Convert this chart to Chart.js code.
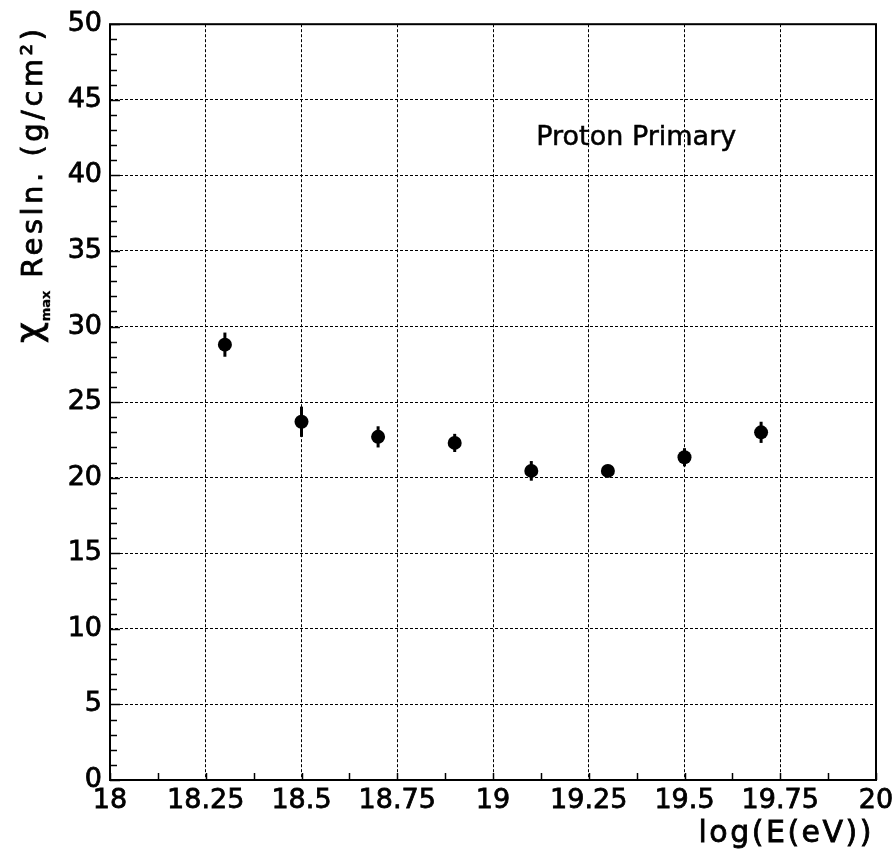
<!DOCTYPE html>
<html>
<head>
<meta charset="utf-8">
<script src="https://cdn.jsdelivr.net/npm/chart.js@4/dist/chart.umd.min.js"></script>
<style>
html,body{margin:0;padding:0;background:#fff;}
canvas{display:block;}
</style>
</head>
<body>
<canvas id="c" width="893" height="851"></canvas>
<script>
// ---- data ----
const logEnergy = [18.3, 18.5, 18.7, 18.9, 19.1, 19.3, 19.5, 19.7];
const xmaxResolution = [28.8, 23.7, 22.7, 22.3, 20.45, 20.45, 21.35, 23.0];
const xmaxError = [0.8, 1.0, 0.7, 0.6, 0.65, 0.4, 0.6, 0.7];
const xTickValues = [18, 18.25, 18.5, 18.75, 19, 19.25, 19.5, 19.75, 20];
const xTickLabels = ['18', '18.25', '18.5', '18.75', '19', '19.25', '19.5', '19.75', '20'];
const yTickValues = [0, 5, 10, 15, 20, 25, 30, 35, 40, 45, 50];
const yTickLabels = ['0', '5', '10', '15', '20', '25', '30', '35', '40', '45', '50'];
const annotationText = 'Proton Primary';
const xAxisTitle = 'log(E(eV))';
const yAxisTitleParts = ['\u03C7', 'max', ' Resln. (g/cm\u00B2)'];

const FONT = '"DejaVu Sans", sans-serif';

function heavyText(ctx, text, x, y, sw) {
  ctx.lineWidth = sw;
  ctx.strokeText(text, x, y);
  ctx.fillText(text, x, y);
}

const decor = {
  id: 'decor',
  afterDatasetsDraw(chart) {
    const ctx = chart.ctx;
    const xs = chart.scales.x, ys = chart.scales.y;
    ctx.save();
    ctx.strokeStyle = '#000';
    ctx.lineWidth = 3;
    logEnergy.forEach((x, i) => {
      const px = xs.getPixelForValue(x);
      const y1 = ys.getPixelForValue(xmaxResolution[i] - xmaxError[i]);
      const y2 = ys.getPixelForValue(xmaxResolution[i] + xmaxError[i]);
      ctx.beginPath(); ctx.moveTo(px, y1); ctx.lineTo(px, y2); ctx.stroke();
    });
    ctx.restore();
  },
  afterDraw(chart) {
    const ctx = chart.ctx;
    const xs = chart.scales.x, ys = chart.scales.y;
    const a = chart.chartArea;
    ctx.save();
    // frame
    ctx.strokeStyle = '#000';
    ctx.lineWidth = 2;
    ctx.strokeRect(a.left, a.top, a.right - a.left, a.bottom - a.top);
    // inward ticks on y
    ctx.lineWidth = 1.5;
    for (let v = 0; v <= 50; v += 1) {
      const py = Math.round(ys.getPixelForValue(v)) + 0.5;
      const len = (v % 5 === 0) ? 10 : 7;
      ctx.beginPath(); ctx.moveTo(a.left, py); ctx.lineTo(a.left + len, py); ctx.stroke();
    }
    // inward ticks on x
    for (let k = 0; k <= 16; k++) {
      const v = 18 + k * 0.125;
      const px = Math.round(xs.getPixelForValue(v)) + 0.5;
      ctx.beginPath(); ctx.moveTo(px, a.bottom); ctx.lineTo(px, a.bottom - 7); ctx.stroke();
    }
    ctx.fillStyle = '#000';
    ctx.strokeStyle = '#000';
    // annotation
    ctx.font = '27px ' + FONT;
    ctx.textAlign = 'center';
    ctx.textBaseline = 'middle';
    heavyText(ctx, annotationText, xs.getPixelForValue(19.374), ys.getPixelForValue(42.45), 0.5);
    // x title
    ctx.font = '30px ' + FONT;
    ctx.letterSpacing = '2.5px';
    ctx.textAlign = 'right';
    ctx.textBaseline = 'alphabetic';
    heavyText(ctx, xAxisTitle, a.right - 2, 842, 0.8);
    // y title
    ctx.translate(42, 343);
    ctx.rotate(-Math.PI / 2);
    ctx.textAlign = 'left';
    let x = 0;
    ctx.font = '36px ' + FONT;
    ctx.letterSpacing = '1px';
    heavyText(ctx, yAxisTitleParts[0], x, -1, 0.8);
    x += ctx.measureText(yAxisTitleParts[0]).width;
    ctx.font = 'bold 13px ' + FONT;
    ctx.letterSpacing = '0px';
    heavyText(ctx, yAxisTitleParts[1], x, 8, 0.3);
    x += ctx.measureText(yAxisTitleParts[1]).width;
    ctx.font = '29px ' + FONT;
    ctx.letterSpacing = '3.5px';
    heavyText(ctx, yAxisTitleParts[2], x, 0, 0.8);
    ctx.restore();
  }
};

new Chart(document.getElementById('c'), {
  type: 'scatter',
  data: {
    datasets: [{
      data: logEnergy.map((x, i) => ({ x: x, y: xmaxResolution[i] })),
      pointRadius: 7,
      pointHoverRadius: 7,
      pointBackgroundColor: '#000',
      pointBorderColor: '#000',
      pointBorderWidth: 0,
      showLine: false
    }]
  },
  options: {
    responsive: false,
    animation: false,
    devicePixelRatio: 1,
    layout: { padding: { top: 18, right: 17, left: 0, bottom: 0 } },
    plugins: { legend: { display: false }, tooltip: { enabled: false } },
    scales: {
      x: {
        type: 'linear',
        min: 18, max: 20,
        afterBuildTicks: s => { s.ticks = xTickValues.map(v => ({ value: v })); },
        afterFit: s => { s.height = 71; s.paddingLeft = 0; s.paddingRight = 0; },
        ticks: {
          autoSkip: false, maxRotation: 0, minRotation: 0,
          color: '#000', padding: 5,
          textStrokeColor: '#000', textStrokeWidth: 0.8,
          font: { family: FONT, size: 27 },
          callback: (v, i) => xTickLabels[i]
        },
        grid: { color: '#000', lineWidth: 1, drawTicks: false, tickLength: 0 },
        border: { display: false, dash: [3, 2] }
      },
      y: {
        type: 'linear',
        min: 0, max: 50,
        afterBuildTicks: s => { s.ticks = yTickValues.map(v => ({ value: v })); },
        afterFit: s => { s.width = 110; },
        ticks: {
          color: '#000', padding: 8,
          textStrokeColor: '#000', textStrokeWidth: 0.8,
          font: { family: FONT, size: 27 },
          callback: (v, i) => yTickLabels[i]
        },
        grid: { color: '#000', lineWidth: 1, drawTicks: false, tickLength: 0 },
        border: { display: false, dash: [3, 2] }
      }
    }
  },
  plugins: [decor]
});
</script>
</body>
</html>
